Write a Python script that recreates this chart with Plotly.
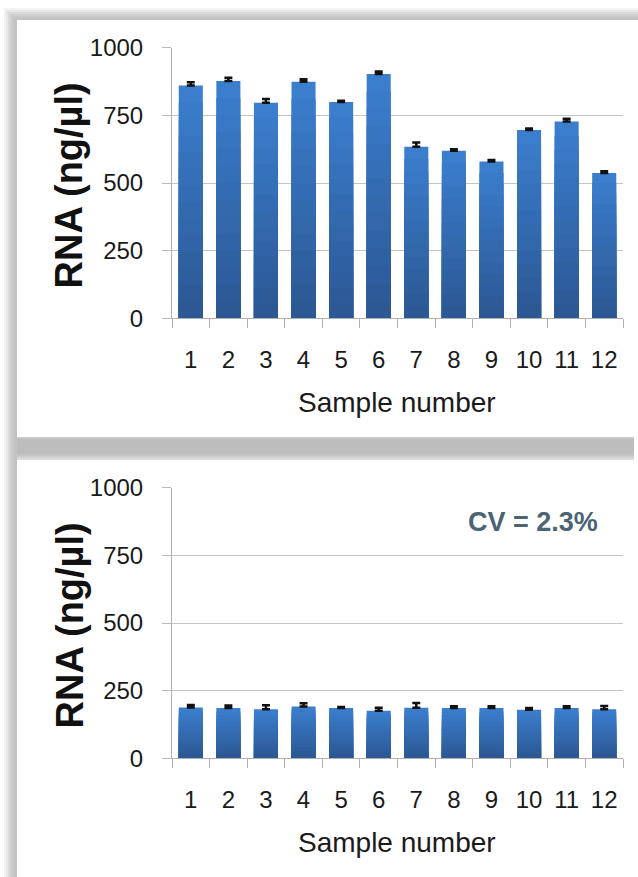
import plotly.graph_objects as go

W, H = 638, 877

samples = [str(i) for i in range(1, 13)]
top_values = [860, 877, 797, 874, 799, 903, 634, 619, 579, 696, 727, 537]
top_errors = [12, 12, 13, 9, 5, 9, 16, 6, 6, 5, 10, 6]
bottom_values = [188, 186, 181, 191, 186, 176, 187, 186, 186, 179, 186, 181]
bottom_errors = [9, 9, 15, 12, 4, 11, 17, 6, 6, 7, 6, 12]
y_ticks = [0, 250, 500, 750, 1000]

y_title = "RNA (ng/\u00b5l)"
x_title = "Sample number"
cv_text = "CV = 2.3%"

TOP_RGB = (59, 126, 205)
BOT_RGB = (44, 88, 148)
N_SHADES = 14
TICKFONT = dict(family="Liberation Sans, Arial", size=24, color="#1a1a1a")

def px_x(p):
    return p / W

def px_y(p):
    return 1 - p / H

def shade(t):
    # t=0 -> top colour, t=1 -> bottom colour
    r, g, b = (round(a + (c - a) * t) for a, c in zip(TOP_RGB, BOT_RGB))
    return f"rgb({r},{g},{b})"

fig = go.Figure()

for vals, errs, xa, ya in [(top_values, top_errors, "x", "y"), (bottom_values, bottom_errors, "x2", "y2")]:
    # vertical gradient: overlaid bars, each shorter one slightly darker
    for k in range(N_SHADES):
        frac = 1 - k / N_SHADES
        fig.add_trace(go.Bar(
            x=samples, y=[v * frac for v in vals], xaxis=xa, yaxis=ya,
            marker=dict(color=shade(k / (N_SHADES - 1)), line=dict(width=0)),
            error_y=(dict(type="data", array=errs, symmetric=False,
                          color="#111111", thickness=2.5, width=4) if k == 0 else None),
            showlegend=False, hoverinfo=("x+y" if k == 0 else "skip"),
        ))

xdom = [px_x(172), px_x(623)]
axis_common_x = dict(
    type="category", domain=xdom, tickson="boundaries", ticks="outside", ticklen=9,
    tickcolor="#b0b0b0", tickwidth=1, showline=True, linecolor="#b0b0b0", linewidth=1,
    showgrid=False, tickfont=TICKFONT, tickangle=0, ticklabelstandoff=20, fixedrange=True,
    automargin=False,
)
axis_common_y = dict(
    range=[0, 1000], tickvals=y_ticks, ticks="outside", ticklen=9, tickcolor="#b8b8b8",
    showline=True, linecolor="#b0b0b0", linewidth=1, showgrid=True, gridcolor="#c4c4c4",
    gridwidth=1, zeroline=False, tickfont=TICKFONT, ticklabelstandoff=14, fixedrange=True,
    automargin=False,
)

fig.update_layout(
    width=W, height=H, margin=dict(l=0, r=0, t=0, b=0, pad=0),
    paper_bgcolor="white", plot_bgcolor="rgba(0,0,0,0)",
    barmode="overlay", bargap=0.36,
    xaxis=dict(axis_common_x, anchor="y"),
    yaxis=dict(axis_common_y, domain=[px_y(318.3), px_y(47.7)], anchor="x"),
    xaxis2=dict(axis_common_x, anchor="y2"),
    yaxis2=dict(axis_common_y, domain=[px_y(758.3), px_y(487.7)], anchor="x2"),
)

# panel shadows (decorative frame)
shapes = []
def band(x0, y0, x1, y1, color):
    shapes.append(dict(type="rect", xref="paper", yref="paper", x0=px_x(x0), x1=px_x(x1),
                       y0=px_y(y1), y1=px_y(y0), fillcolor=color, line=dict(width=0), layer="below"))

steps = ["#f2f2f2", "#e6e6e6", "#dadada", "#d0d0d0", "#c8c8c8", "#c2c2c2"]
for i, c in enumerate(steps):
    band(4 + i, 8 + i * 2, 638, 20, c)
for i, c in enumerate(steps):
    band(4 + i * 2, 8 + i * 2, 17, 877, c)
for i, c in enumerate(["#dcdcdc", "#cfcfcf", "#c4c4c4", "#bdbdbd"]):
    band(17, 436 + i, 634, 460 - i * 2, c)
band(17, 20, 634, 437, "white")
band(17, 460, 634, 877, "white")
fig.update_layout(shapes=shapes)

ann = []
for cy in [185.5, 625.5]:
    ann.append(dict(text="<b>" + y_title + "</b>", x=px_x(69), y=px_y(cy), xref="paper", yref="paper",
                    textangle=-90, showarrow=False, xanchor="center", yanchor="middle",
                    font=dict(family="Liberation Sans, Arial", size=38, color="#111111")))
for cy in [402, 842]:
    ann.append(dict(text=x_title, x=px_x(397), y=px_y(cy), xref="paper", yref="paper",
                    showarrow=False, xanchor="center", yanchor="middle",
                    font=dict(family="Liberation Sans, Arial", size=28, color="#1a1a1a")))
ann.append(dict(text="<b>" + cv_text + "</b>", x=px_x(533), y=px_y(522), xref="paper", yref="paper",
                showarrow=False, xanchor="center", yanchor="middle",
                font=dict(family="Liberation Sans, Arial", size=27, color="#4b6373")))
fig.update_layout(annotations=ann)

fig.write_html("out.html", config=dict(displayModeBar=False),
               post_script="document.body.style.margin='0';document.body.style.overflow='hidden';")
